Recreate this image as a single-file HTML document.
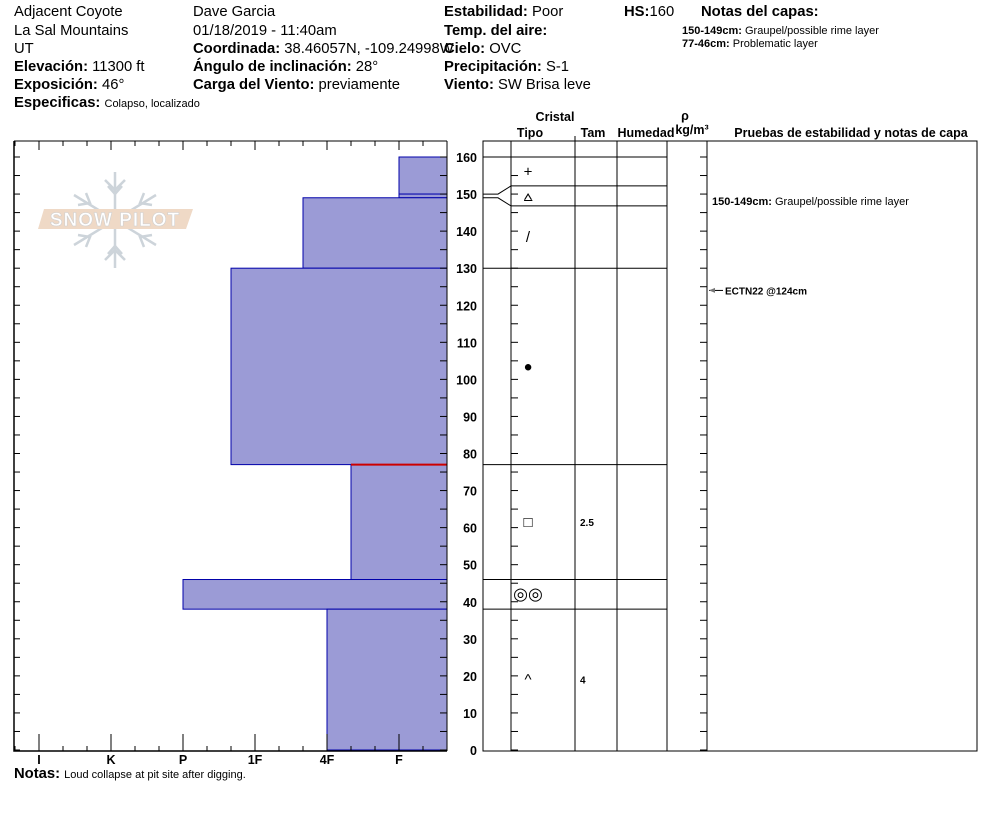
<!DOCTYPE html>
<html><head><meta charset="utf-8">
<style>
body{margin:0;background:#fff;font-family:"Liberation Sans",Arial,sans-serif;}
svg{display:block}
text{font-family:"Liberation Sans",Arial,sans-serif;}
.h{font-size:14.8px;fill:#000}
.b{font-weight:bold}
.s{font-size:11px}
.ax{font-size:12.5px;font-weight:bold}
</style></head><body>
<svg id="c" width="994" height="840" viewBox="0 0 994 840">
<g>
<text class="h" x="14" y="16">Adjacent Coyote</text>
<text class="h" x="14" y="35">La Sal Mountains</text>
<text class="h" x="14" y="53">UT</text>
<text class="h" x="14" y="71"><tspan class="b">Elevación:</tspan> 11300 ft</text>
<text class="h" x="14" y="89"><tspan class="b">Exposición:</tspan> 46°</text>
<text class="h" x="14" y="107"><tspan class="b">Especificas:</tspan> <tspan font-size="11">Colapso, localizado</tspan></text>
<text class="h" x="193" y="16">Dave Garcia</text>
<text class="h" x="193" y="35">01/18/2019 - 11:40am</text>
<text class="h" x="193" y="53"><tspan class="b">Coordinada:</tspan> 38.46057N, -109.24998W</text>
<text class="h" x="193" y="71"><tspan class="b">Ángulo de inclinación:</tspan> 28°</text>
<text class="h" x="193" y="89"><tspan class="b">Carga del Viento:</tspan> previamente</text>
<text class="h" x="444" y="16"><tspan class="b">Estabilidad:</tspan> Poor</text>
<text class="h" x="444" y="35"><tspan class="b">Temp. del aire:</tspan></text>
<text class="h" x="444" y="53"><tspan class="b">Cielo:</tspan> OVC</text>
<text class="h" x="444" y="71"><tspan class="b">Precipitación:</tspan> S-1</text>
<text class="h" x="444" y="89"><tspan class="b">Viento:</tspan>  SW Brisa leve</text>
<text class="h" x="624" y="16"><tspan class="b">HS:</tspan>160</text>
<text class="h b" x="701" y="16">Notas del capas:</text>
<text class="s" x="682" y="34"><tspan class="b">150-149cm:</tspan> Graupel/possible rime layer</text>
<text class="s" x="682" y="47"><tspan class="b">77-46cm:</tspan> Problematic layer</text>
</g>
<g>
<g stroke="#cdd4da" stroke-width="2.5" fill="none">
<line x1="115" y1="172" x2="115" y2="268"/><line x1="74" y1="195" x2="156" y2="245"/><line x1="74" y1="245" x2="156" y2="195"/>
<polyline points="105,180 115,190 125,180"/><polyline points="105,260 115,250 125,260"/>
<polyline points="108,186 115,194 122,186"/><polyline points="108,254 115,246 122,254"/>
<polyline points="78,205 90,203 86,193"/><polyline points="152,205 140,203 144,193"/>
<polyline points="78,235 90,237 86,247"/><polyline points="152,235 140,237 144,247"/>
</g>
<polygon points="44,209 193,209 186,229 38,229" fill="#efd9c6"/>
<text x="115" y="226" text-anchor="middle" font-size="19" font-weight="bold" fill="#fff" stroke="#d0d0d0" stroke-width="0.6" letter-spacing="1">SNOW PILOT</text>
</g>
<g id="hard"></g>
<g id="right"></g>
<text class="h b" x="14" y="778" font-size="13">Notas: <tspan font-weight="normal" font-size="11">Loud collapse at pit site after digging.</tspan></text>
</svg>
<script>
const layerTops=[160,150,149,130,77,46,38];
const layerBottoms=[150,149,130,77,46,38,0];
const hardness=[2,2,6,9,4,11,5]; // index: F=2,4F=5,1F=8,P=11,K=14,I=17
const hardLabels=["I","K","P","1F","4F","F"];
const hardLabelVals=[17,14,11,8,5,2];
const crystals=["+","⩟","/","●","□","◎◎","^"];
const grainSizes=["","","","","2.5","","4"];
const depthTicks=[0,10,20,30,40,50,60,70,80,90,100,110,120,130,140,150,160];
const testDepths=[124];
const testLabels=["ECTN22 @124cm"];
const problemDepth=77;

const NS="http://www.w3.org/2000/svg";
const y=d=>750-d*(593/160);
const x=h=>447-h*24;
function el(p,t,a,txt){const e=document.createElementNS(NS,t);for(const k in a)e.setAttribute(k,a[k]);if(txt!==undefined)e.textContent=txt;p.appendChild(e);return e;}
const H=document.getElementById('hard'),R=document.getElementById('right');
for(let i=0;i<layerTops.length;i++){
 const r=el(H,'rect',{x:x(hardness[i]),y:y(layerTops[i]),width:447-x(hardness[i]),height:y(layerBottoms[i])-y(layerTops[i]),fill:'#9b9bd6',stroke:'#0000aa','stroke-width':1});
 
 
}
const red=el(H,'line',{x1:x(hardness[layerTops.indexOf(problemDepth)]),x2:447,y1:y(problemDepth),y2:y(problemDepth),stroke:'#cc0000','stroke-width':2});


el(H,'polyline',{points:`14,141 447,141`,stroke:'#000',fill:'none'});
el(H,'polyline',{points:`14,141 14,751 447,751`,stroke:'#000',fill:'none','stroke-width':1.5});
el(H,'line',{x1:447,y1:141,x2:447,y2:751,stroke:'#000'});
for(let v=18;v>=0;v--){const xx=x(v);const maj=(v-2)%3===0;
 el(H,'line',{x1:xx,x2:xx,y1:141,y2:maj?150:146,stroke:'#000'});
 el(H,'line',{x1:xx,x2:xx,y1:751,y2:maj?734:746,stroke:'#000'});}
hardLabelVals.forEach((v,i)=>{const t=el(H,'text',{x:x(v),y:764,'text-anchor':'middle',class:'ax'},hardLabels[i]);
 
 });
for(let d=0;d<=160;d+=5){const yy=y(d);
 el(H,'line',{x1:14,x2:20,y1:yy,y2:yy,stroke:'#000'});
 el(H,'line',{x1:440,x2:447,y1:yy,y2:yy,stroke:'#000'});
 el(R,'line',{x1:511,x2:518,y1:yy,y2:yy,stroke:'#000'});
 el(R,'line',{x1:700,x2:707,y1:yy,y2:yy,stroke:'#000'});}
depthTicks.forEach(d=>{const t=el(H,'text',{x:477,y:y(d)+5,'text-anchor':'end',class:'ax'},d);
 
 });
el(R,'rect',{x:483,y:141,width:494,height:610,fill:'none',stroke:'#000'});
[511,575,617,667,707].forEach(c=>el(R,'line',{x1:c,x2:c,y1:141,y2:751,stroke:'#000'}));
const hdr=[[555,'Cristal',121],[530,'Tipo',137],[593,'Tam',137],[646,'Humedad',137],[685,'ρ',120],[692,'kg/m³',134],[851,'Pruebas de estabilidad y notas de capa',137]];
hdr.forEach(h=>{const t=el(R,'text',{x:h[0],y:h[2],'text-anchor':'middle','font-size':12.5,'font-weight':'bold'},h[1]);
 
 });
el(R,'line',{x1:575,x2:575,y1:136,y2:141,stroke:'#000'});
const bounds=[layerTops[0],...layerBottoms];
const disp=bounds.map(d=>y(d));
for(let i=0;i<layerTops.length;i++){const h=y(layerBottoms[i])-y(layerTops[i]);
 if(h<20){const m=(y(layerBottoms[i])+y(layerTops[i]))/2;disp[i]=m-10;disp[i+1]=m+10;}}
bounds.forEach((d,i)=>{if(d===0)return;const ry=y(d),dy=disp[i];
 if(Math.abs(ry-dy)<1){el(R,'line',{x1:483,x2:667,y1:ry,y2:ry,stroke:'#000'});}
 else{el(R,'polyline',{points:`483,${ry} 498,${ry} 511,${dy} 667,${dy}`,fill:'none',stroke:'#000'});}});
for(let i=0;i<layerTops.length;i++){const cy=(disp[i]+disp[i+1])/2;
 const c=crystals[i];
 const fs=c==='●'?15:(c==='◎◎'?17:15);
 const t=el(R,'text',{x:528,y:cy+5,'text-anchor':'middle','font-size':fs},c);
 
 
 if(grainSizes[i]){const g=el(R,'text',{x:580,y:cy+4,'font-size':10,'font-weight':'bold'},grainSizes[i]);
 
 }}
const nt=el(R,'text',{x:712,y:205,'font-size':11},'');
nt.innerHTML='<tspan font-weight="bold">150-149cm:</tspan> Graupel/possible rime layer';


testDepths.forEach((d,i)=>{const yy=y(d);
 el(R,'line',{x1:709,x2:723,y1:yy,y2:yy,stroke:'#000'});
 el(R,'polygon',{points:`709,${yy} 715,${yy-2.5} 715,${yy+2.5}`,fill:'#777'});
 const t=el(R,'text',{x:725,y:yy+4,'font-size':10,'font-weight':'bold'},testLabels[i]);
 
 });
</script>
</body></html>
